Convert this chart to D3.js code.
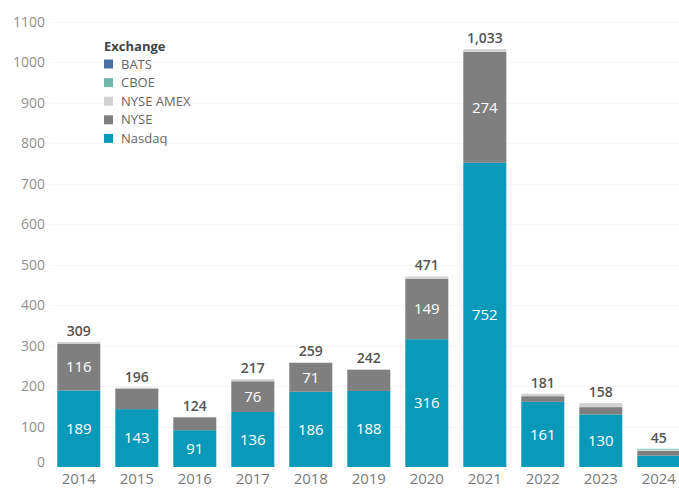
<!DOCTYPE html>
<html>
<head>
<meta charset="utf-8">
<script src="https://cdn.jsdelivr.net/npm/d3@7"></script>
<style>
  body { margin: 0; background: #fff; }
  svg { display: block; font-family: "Open Sans", "Noto Sans", sans-serif; }
</style>
</head>
<body>
<div id="chart"></div>
<script>
// years and counts per exchange
var years = ["2014", "2015", "2016", "2017", "2018", "2019", "2020", "2021", "2022", "2023", "2024"];
var nasdaq = [189, 143, 91, 136, 186, 188, 316, 752, 161, 130, 28];
var nyse = [116, 51, 32, 76, 71, 52, 149, 274, 14, 18, 12];
var nyseAmex = [4, 2, 1, 5, 2, 2, 6, 7, 6, 10, 3];
var cboe = [0, 0, 0, 0, 0, 0, 0, 0, 0, 0, 2];
var bats = [0, 0, 0, 0, 0, 0, 0, 0, 0, 0, 0];
var totals = [309, 196, 124, 217, 259, 242, 471, 1033, 181, 158, 45];
var yTicks = [0, 100, 200, 300, 400, 500, 600, 700, 800, 900, 1000, 1100];

var exchanges = [
  { key: "Nasdaq", values: nasdaq, color: "#0a99b9" },
  { key: "NYSE", values: nyse, color: "#7f7f7f" },
  { key: "NYSE AMEX", values: nyseAmex, color: "#d2d2d2" },
  { key: "CBOE", values: cboe, color: "#72b7ae" },
  { key: "BATS", values: bats, color: "#4a6fa6" }
];
var legendOrder = ["BATS", "CBOE", "NYSE AMEX", "NYSE", "Nasdaq"];

var width = 679, height = 488;

var svg = d3.select("#chart").append("svg")
    .attr("width", width)
    .attr("height", height);

var x = d3.scaleBand()
    .domain(years)
    .range([49.8, 687.8])
    .paddingInner(0.2586)
    .paddingOuter(0.1293);

var y = d3.scaleLinear()
    .domain([0, 1100])
    .range([467, 22]);

// faint gridlines
svg.append("g")
  .selectAll("line")
  .data(yTicks.slice(1))
  .enter().append("line")
    .attr("x1", 50).attr("x2", width)
    .attr("y1", function(d) { return Math.round(y(d)) + 0.5; })
    .attr("y2", function(d) { return Math.round(y(d)) + 0.5; })
    .attr("stroke", "#f6f6f6");

// y axis labels
var yAxis = d3.axisLeft(y).tickValues(yTicks).tickFormat(d3.format("d")).tickSize(0).tickPadding(0);
var gy = svg.append("g")
    .attr("transform", "translate(45,0)")
    .call(yAxis);
gy.select(".domain").remove();
gy.selectAll("text")
    .attr("font-size", 14)
    .attr("fill", "#8f8f8f")
    .attr("font-family", "'Open Sans', sans-serif")
    .attr("dy", function(d) { return d === 0 ? "-0.05em" : "0.32em"; });

// stack
var rows = years.map(function(yr, i) {
  var r = { year: yr };
  exchanges.forEach(function(e) { r[e.key] = e.values[i]; });
  return r;
});
var stack = d3.stack().keys(exchanges.map(function(e) { return e.key; }));
var series = stack(rows);

var layers = svg.append("g").selectAll("g")
  .data(series)
  .enter().append("g")
    .attr("fill", function(d, i) { return exchanges[i].color; });

layers.selectAll("rect")
  .data(function(d) { return d; })
  .enter().append("rect")
    .attr("x", function(d) { return x(d.data.year); })
    .attr("width", x.bandwidth())
    .attr("y", function(d) { return y(d[1]); })
    .attr("height", function(d) { return y(d[0]) - y(d[1]); });

// segment labels (Nasdaq and NYSE if big enough)
series.slice(0, 2).forEach(function(s) {
  svg.append("g").selectAll("text")
    .data(s.filter(function(d) { return d[1] - d[0] >= 60; }))
    .enter().append("text")
      .attr("x", function(d) { return x(d.data.year) + x.bandwidth() / 2; })
      .attr("y", function(d) { return (y(d[0]) + y(d[1])) / 2; })
      .attr("dy", "0.35em")
      .attr("text-anchor", "middle")
      .attr("font-size", 15)
      .attr("fill", "#fff")
      .text(function(d) { return d[1] - d[0]; });
});

// totals
svg.append("g").selectAll("text")
  .data(years)
  .enter().append("text")
    .attr("x", function(d) { return x(d) + x.bandwidth() / 2; })
    .attr("y", function(d, i) { return y(totals[i]) - 6; })
    .attr("text-anchor", "middle")
    .attr("font-size", 14)
    .attr("font-weight", 600)
    .attr("fill", "#555")
    .text(function(d, i) { return d3.format(",")(totals[i]); });

// x axis labels
var gx = svg.append("g")
    .attr("transform", "translate(0,487)")
    .call(d3.axisBottom(x).tickSize(0).tickPadding(0));
gx.select(".domain").remove();
gx.selectAll("text")
    .attr("font-size", 15)
    .attr("fill", "#7a7a7a")
    .attr("font-family", "'Open Sans', sans-serif")
    .attr("y", 0)
    .attr("dy", "-0.2em");

// legend
var legend = svg.append("g").attr("transform", "translate(104,46)");
legend.append("text")
    .attr("x", 0).attr("y", 0)
    .attr("dy", "0.35em")
    .attr("font-size", 13)
    .attr("font-weight", 700)
    .attr("fill", "#444")
    .text("Exchange");

var items = legend.selectAll("g.item")
  .data(legendOrder)
  .enter().append("g")
    .attr("class", "item")
    .attr("transform", function(d, i) { return "translate(0," + (18 + i * 18.6) + ")"; });
items.append("rect")
    .attr("x", 0).attr("y", -4.5)
    .attr("width", 9).attr("height", 9)
    .attr("fill", function(d) {
      return exchanges.filter(function(e) { return e.key === d; })[0].color;
    });
items.append("text")
    .attr("x", 17).attr("y", 0)
    .attr("dy", "0.35em")
    .attr("font-size", 13)
    .attr("fill", "#666")
    .text(function(d) { return d; });
</script>
</body>
</html>
